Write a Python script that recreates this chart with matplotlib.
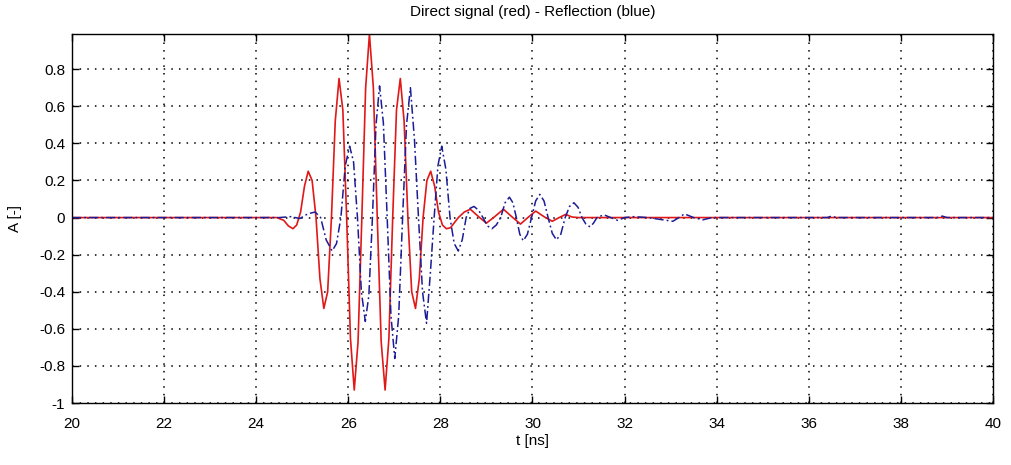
import matplotlib
matplotlib.use("Agg")
import matplotlib.pyplot as plt

# semnalul direct (rosu)
t_direct = [20.00, 24.45, 24.60, 24.70, 24.80, 24.88, 24.965, 25.05, 25.13,
            25.215, 25.30, 25.385, 25.47, 25.5525, 25.635, 25.7175, 25.80,
            25.8825, 25.965, 26.0475, 26.13, 26.2125, 26.295, 26.3775, 26.46,
            26.545, 26.63, 26.715, 26.80, 26.8825, 26.965, 27.0475, 27.13,
            27.2125, 27.295, 27.3775, 27.46, 27.5425, 27.625, 27.7075, 27.79,
            27.875, 27.96, 28.045, 28.13, 28.22, 28.39, 28.52, 28.65, 28.83,
            29.00, 29.18, 29.37, 29.55, 29.74, 29.90, 30.07, 30.25, 30.43,
            30.58, 30.72, 30.86, 31.00, 40.00]
a_direct = [0.0, 0.0, -0.015, -0.045, -0.06, -0.04, 0.03, 0.17, 0.25,
            0.20, 0.0, -0.33, -0.49, -0.40, 0.0, 0.52, 0.75,
            0.58, 0.0, -0.65, -0.93, -0.67, 0.0, 0.70, 0.99,
            0.70, 0.0, -0.67, -0.93, -0.65, 0.0, 0.58, 0.75,
            0.52, 0.0, -0.40, -0.49, -0.33, 0.0, 0.20, 0.25,
            0.17, 0.03, -0.04, -0.06, -0.055, 0.0, 0.03, 0.045, 0.005,
            -0.03, 0.005, 0.045, 0.005, -0.035, 0.0, 0.035, 0.005, -0.02,
            0.0, 0.017, 0.003, 0.0, 0.0]

# reflexia (albastru)
t_reflexie = [20.00, 24.50, 24.75, 24.95, 25.12, 25.28, 25.40, 25.52, 25.65,
              25.745, 25.84, 25.935, 26.03, 26.115, 26.20, 26.285, 26.37,
              26.4475, 26.525, 26.6025, 26.68, 26.7625, 26.845, 26.9275, 27.01,
              27.095, 27.18, 27.265, 27.35, 27.4375, 27.525, 27.6125, 27.70,
              27.7825, 27.865, 27.9475, 28.03, 28.12, 28.21, 28.30, 28.39,
              28.475, 28.56, 28.645, 28.73, 28.83, 28.925, 29.02, 29.12,
              29.215, 29.31, 29.405, 29.50, 29.575, 29.65, 29.725, 29.80,
              29.89, 29.98, 30.07, 30.16, 30.25, 30.34, 30.43, 30.52,
              30.615, 30.71, 30.805, 30.90, 30.99, 31.075, 31.16, 31.25,
              31.325, 31.40, 31.55, 31.70, 31.85, 32.00, 32.20, 32.50,
              33.05, 33.18, 33.30, 33.50, 33.70, 33.90, 36.40, 36.50, 36.60,
              38.80, 38.90, 39.00, 40.00]
a_reflexie = [0.0, 0.0, 0.005, -0.005, 0.02, 0.03, 0.0, -0.12, -0.18,
              -0.14, 0.0, 0.28, 0.385, 0.30, 0.0, -0.40, -0.56,
              -0.42, 0.0, 0.50, 0.71, 0.51, 0.0, -0.53, -0.76,
              -0.53, 0.0, 0.50, 0.70, 0.42, 0.0, -0.40, -0.57,
              -0.30, 0.0, 0.28, 0.385, 0.26, 0.0, -0.14, -0.18,
              -0.12, 0.0, 0.05, 0.06, 0.04, 0.0, -0.045, -0.06,
              -0.04, 0.0, 0.08, 0.11, 0.08, 0.0, -0.09, -0.125,
              -0.09, 0.0, 0.09, 0.125, 0.09, 0.0, -0.085, -0.12,
              -0.09, 0.0, 0.06, 0.08, 0.055, 0.0, -0.035, -0.05,
              -0.03, 0.0, 0.015, 0.0, -0.015, 0.0, 0.005, 0.0,
              -0.02, 0.0, 0.02, 0.0, -0.012, 0.0, 0.0, 0.008, 0.0,
              0.0, 0.008, 0.0, 0.0]

x_ticks = [20, 22, 24, 26, 28, 30, 32, 34, 36, 38, 40]
y_ticks = [-1, -0.8, -0.6, -0.4, -0.2, 0, 0.2, 0.4, 0.6, 0.8]
y_labels = ['-1', '-0.8', '-0.6', '-0.4', '-0.2', '0', '0.2', '0.4', '0.6', '0.8']

plt.rcParams['font.family'] = ['Liberation Sans', 'DejaVu Sans']
plt.rcParams['axes.unicode_minus'] = False

fig = plt.figure(figsize=(10.12, 4.65), dpi=100)
ax = fig.add_axes([0.0711, 0.1333, 0.9101, 0.7936])

ax.plot(t_direct, a_direct, color='#e01818', linewidth=1.2, linestyle='-')
ax.plot(t_reflexie, a_reflexie, color='#1c1c96', linewidth=1.1,
        linestyle=(0, (6, 2, 1.2, 2)))

ax.set_xlim(20, 40)
ax.set_ylim(-1, 0.99)
ax.set_xticks(x_ticks)
ax.set_yticks(y_ticks)
ax.set_yticklabels(y_labels)
ax.tick_params(axis='both', direction='in', top=True, right=True, length=5,
               labelsize=11, width=1.0)
ax.tick_params(axis='x', pad=10)
ax.tick_params(axis='y', pad=5)
ax.grid(True, linestyle=(0, (1, 4)), color='black', linewidth=1.1)
for s in ax.spines.values():
    s.set_linewidth(1.0)

ax.set_title('Direct signal (red) - Reflection (blue)', fontsize=11, pad=13)
ax.set_xlabel('t [ns]', fontsize=11, labelpad=2)
ax.set_ylabel('A [-]', fontsize=11, labelpad=12)

fig.savefig('out.png', dpi=100)
